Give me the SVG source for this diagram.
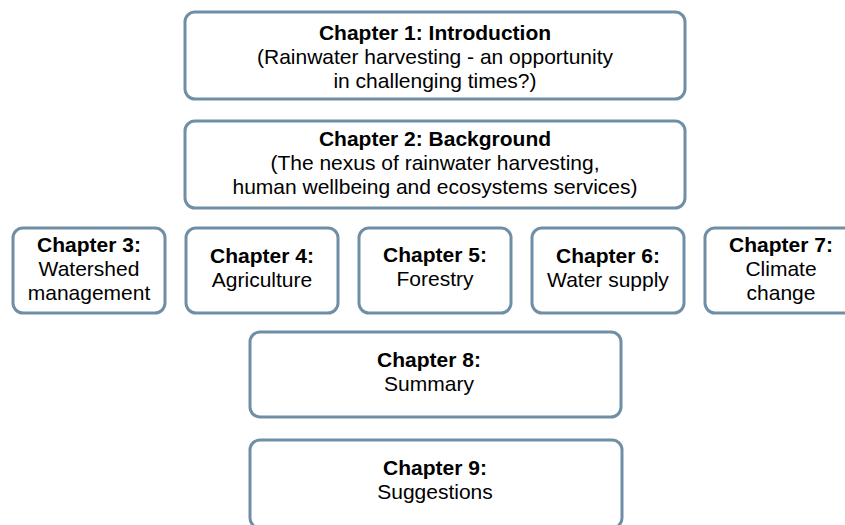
<svg xmlns="http://www.w3.org/2000/svg" width="845" height="525" viewBox="0 0 845 525">
<style>
.box{fill:#ffffff;stroke:#6f8fa6;stroke-width:3}
text{font-family:"Liberation Sans",Arial,sans-serif;font-size:21px;fill:#000;text-anchor:middle}
.b{font-weight:bold}
</style>
<rect width="845" height="525" fill="#ffffff"/>
<g id="connectors"></g>
<g id="ch1">
<rect class="box" x="185" y="12" width="500" height="87" rx="10"/>
<text x="435" y="40" class="b">Chapter 1: Introduction</text>
<text x="435" y="64">(Rainwater harvesting - an opportunity</text>
<text x="435" y="88">in challenging times?)</text>
</g>
<g id="ch2">
<rect class="box" x="185" y="121" width="500" height="87" rx="10"/>
<text x="435" y="146" class="b">Chapter 2: Background</text>
<text x="435" y="170">(The nexus of rainwater harvesting,</text>
<text x="435" y="194">human wellbeing and ecosystems services)</text>
</g>
<g id="ch3">
<rect class="box" x="13" y="228" width="152" height="85" rx="10"/>
<text x="89" y="252" class="b">Chapter 3:</text>
<text x="89" y="276">Watershed</text>
<text x="89" y="300">management</text>
</g>
<g id="ch4">
<rect class="box" x="186" y="228" width="152" height="85" rx="10"/>
<text x="262" y="263" class="b">Chapter 4:</text>
<text x="262" y="287">Agriculture</text>
</g>
<g id="ch5">
<rect class="box" x="359" y="228" width="152" height="85" rx="10"/>
<text x="435" y="262" class="b">Chapter 5:</text>
<text x="435" y="286">Forestry</text>
</g>
<g id="ch6">
<rect class="box" x="532" y="228" width="152" height="85" rx="10"/>
<text x="608" y="263" class="b">Chapter 6:</text>
<text x="608" y="287">Water supply</text>
</g>
<g id="ch7">
<rect class="box" x="705" y="228" width="152" height="85" rx="10"/>
<text x="781" y="252" class="b">Chapter 7:</text>
<text x="781" y="276">Climate</text>
<text x="781" y="300">change</text>
</g>
<g id="ch8">
<rect class="box" x="250" y="332" width="371" height="85" rx="10"/>
<text x="429" y="367" class="b">Chapter 8:</text>
<text x="429" y="391">Summary</text>
</g>
<g id="ch9">
<rect class="box" x="250" y="440" width="372" height="88" rx="10"/>
<text x="435" y="475" class="b">Chapter 9:</text>
<text x="435" y="499">Suggestions</text>
</g>
</svg>
